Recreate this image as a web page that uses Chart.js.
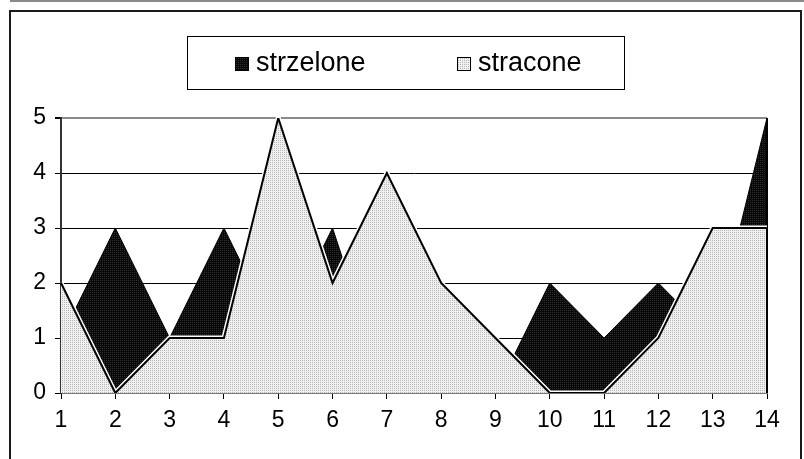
<!DOCTYPE html>
<html>
<head>
<meta charset="utf-8">
<script src="https://cdn.jsdelivr.net/npm/chart.js@4.4.1/dist/chart.umd.min.js"></script>
<style>
  html, body { margin: 0; padding: 0; background: #fff; }
  #wrap { width: 804px; height: 459px; position: relative; }
  canvas { display: block; }
</style>
</head>
<body>
<div id="wrap"><canvas id="c" width="804" height="459"></canvas></div>
<script>
// Match numbers along the x axis
const matches = ['1', '2', '3', '4', '5', '6', '7', '8', '9', '10', '11', '12', '13', '14'];
// Goals scored per match
const strzelone = [1, 3, 1, 3, 1, 3, 0, 1, 0, 2, 1, 2, 1, 5];
// Goals conceded per match
const stracone = [2, 0, 1, 1, 5, 2, 4, 2, 1, 0, 0, 1, 3, 3];
// Value axis ticks
const yTicks = [0, 1, 2, 3, 4, 5];

const FONT = 'Liberation Sans, Arial, sans-serif';
const canvas = document.getElementById('c');
const ctx0 = canvas.getContext('2d');

// Small dithered tiles, like the old office-style pattern fills
function dither(base, dot) {
  const t = document.createElement('canvas');
  t.width = 2; t.height = 2;
  const g = t.getContext('2d');
  g.fillStyle = base; g.fillRect(0, 0, 2, 2);
  g.fillStyle = dot; g.fillRect(0, 0, 1, 1);
  return ctx0.createPattern(t, 'repeat');
}
const darkFill = dither('#080808', '#303030');
const lightFill = dither('#f0f0f0', '#b8b8b8');

const framePlugin = {
  id: 'frame',
  beforeDraw(chart) {
    const c = chart.ctx;
    c.save();
    c.fillStyle = '#fff';
    c.fillRect(0, 0, chart.width, chart.height);
    // thin rule along the very top
    c.fillStyle = '#8a8a8a';
    c.fillRect(10, 0, 794, 2);
    // chart border
    c.fillStyle = '#1a1a1a';
    c.fillRect(9, 10, 793, 2);
    c.fillRect(9, 10, 2, 459);
    c.fillRect(800, 10, 2, 459);
    c.restore();
  },
  afterDatasetDraw(chart, args) {
    const c = chart.ctx;
    const area = chart.chartArea;
    const pts = args.meta.data;
    const y0 = chart.scales.y.getPixelForValue(0);
    c.save();
    c.beginPath();
    c.rect(area.left, area.top - 2, area.right - area.left + 2, area.bottom - area.top + 2);
    c.clip();
    // closing edge of the area at the last category
    const last = pts[pts.length - 1];
    c.strokeStyle = '#000';
    c.lineWidth = 2;
    c.beginPath();
    c.moveTo(last.x, last.y);
    c.lineTo(last.x, y0);
    c.stroke();
    // white highlight under the outline of the conceded series
    if (args.index === 0) {
      const other = chart.getDatasetMeta(1).data;
      c.strokeStyle = '#fff';
      c.lineWidth = 5;
      c.lineJoin = 'miter';
      c.beginPath();
      other.forEach((p, i) => (i ? c.lineTo(p.x, p.y) : c.moveTo(p.x, p.y)));
      c.stroke();
    }
    c.restore();
  },
  afterDraw(chart) {
    const c = chart.ctx;
    c.save();
    // legend box
    c.strokeStyle = '#000';
    c.lineWidth = 1;
    c.strokeRect(187.5, 36.5, 437, 53);
    const items = [
      { x: 235, ds: chart.data.datasets[0] },
      { x: 457, ds: chart.data.datasets[1] }
    ];
    c.font = '27px ' + FONT;
    c.textBaseline = 'middle';
    items.forEach(it => {
      c.fillStyle = it.ds.backgroundColor;
      c.fillRect(it.x, 57, 14, 14);
      c.strokeStyle = '#000';
      c.strokeRect(it.x + 0.5, 57.5, 13, 13);
      c.fillStyle = '#000';
      c.fillText(it.ds.label, it.x + 21, 64);
    });
    c.restore();
  }
};

new Chart(canvas, {
  type: 'line',
  data: {
    labels: matches,
    datasets: [
      {
        label: 'strzelone',
        data: strzelone,
        order: 2,
        fill: 'origin',
        backgroundColor: darkFill,
        borderColor: '#000',
        borderWidth: 1
      },
      {
        label: 'stracone',
        data: stracone,
        order: 1,
        fill: 'origin',
        backgroundColor: lightFill,
        borderColor: '#000',
        borderWidth: 2
      }
    ]
  },
  options: {
    responsive: false,
    animation: false,
    devicePixelRatio: 1,
    layout: { padding: { top: 118, right: 37, left: 0, bottom: 0 } },
    elements: {
      line: { tension: 0, borderJoinStyle: 'miter' },
      point: { radius: 0, hoverRadius: 0 }
    },
    plugins: {
      legend: { display: false },
      tooltip: { enabled: false }
    },
    scales: {
      x: {
        type: 'category',
        offset: false,
        grid: { display: true, drawOnChartArea: false, tickLength: 6, tickColor: '#000', tickWidth: 1 },
        border: { color: '#777', width: 2 },
        ticks: { color: '#000', font: { family: FONT, size: 23 }, padding: 8, maxRotation: 0, autoSkip: false },
        afterFit(s) { s.height = 66; }
      },
      y: {
        min: 0,
        max: 5,
        afterBuildTicks(s) { s.ticks = yTicks.map(v => ({ value: v })); },
        ticks: { color: '#000', font: { family: FONT, size: 23 }, padding: 9 },
        grid: {
          color: c => (c.tick && c.tick.value === 5 ? '#8a8a8a' : '#000'),
          lineWidth: c => (c.tick && c.tick.value === 5 ? 2 : 1),
          tickColor: '#000',
          tickLength: 6
        },
        border: { color: '#333', width: 2 },
        afterFit(s) { s.width = 61; }
      }
    }
  },
  plugins: [framePlugin]
});
</script>
</body>
</html>
